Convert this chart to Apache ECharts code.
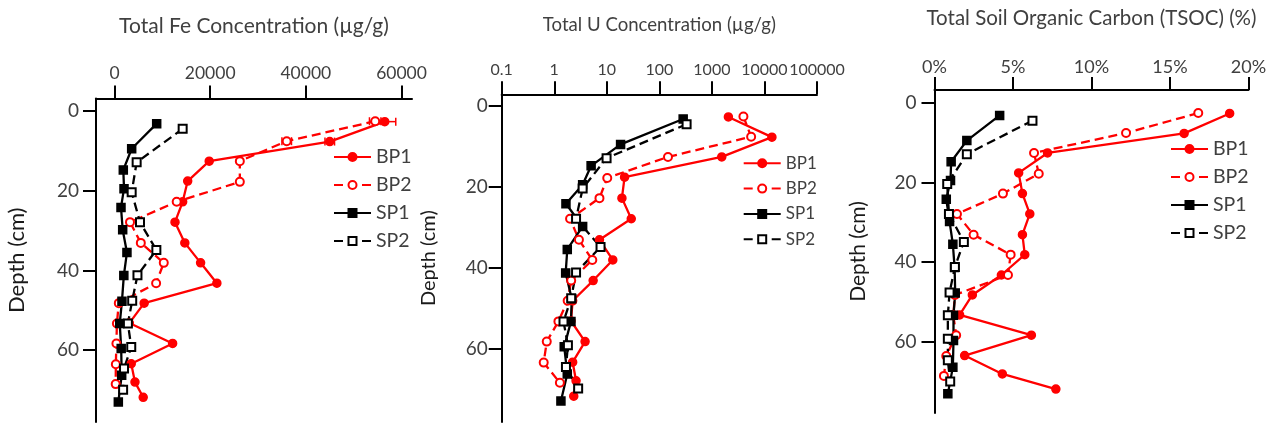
<!DOCTYPE html>
<html>
<head>
<meta charset="utf-8">
<script src="https://cdn.jsdelivr.net/npm/echarts@6/dist/echarts.min.js"></script>
<style>html,body{margin:0;padding:0;background:#fff}#c{width:1272px;height:424px}</style>
</head>
<body>
<div id="c"></div>
<script>
// ---- Depths (cm) per sampling profile ----
const depthBP1 = [2.7, 7.7, 12.6, 17.6, 22.8, 27.9, 33.1, 38.1, 43.2, 48.2, 53.2, 58.3, 63.4, 68.0, 71.8];
const depthBP2 = [2.6, 7.6, 12.6, 17.8, 22.8, 27.9, 33.1, 38.1, 43.2, 48.2, 53.3, 58.3, 63.5, 68.5];
const depthSP1 = [3.2, 9.5, 14.8, 19.5, 24.2, 29.8, 35.5, 41.3, 47.7, 53.3, 59.6, 66.3, 73.0];
const depthSP2 = [4.5, 12.9, 20.4, 27.9, 34.9, 41.2, 47.6, 53.3, 59.2, 64.6, 69.9];

// ---- Total Fe (ug/g) ----
const feBP1 = [56500, 45000, 19800, 15300, 14250, 12650, 14700, 18000, 21400, 6200, 3100, 12150, 3500, 4280, 6000];
const feBP2 = [54500, 36000, 26200, 26200, 13000, 3240, 5500, 10300, 8700, 900, 500, 400, 280, 250];
const feSP1 = [8820, 3590, 1840, 1990, 1360, 1710, 2600, 1950, 1560, 1100, 1400, 1500, 800];
const feSP2 = [14250, 4630, 3590, 5330, 8750, 4800, 3700, 2800, 3500, 1990, 1800];
const feErrBP1 = [2300, 1000, 0, 0, 0, 0, 0, 0, 0, 0, 0, 0, 0, 0, 0];
const feErrBP2 = [1200, 1000, 0, 0, 0, 0, 0, 0, 0, 0, 0, 0, 0, 0];

// ---- Total U (ug/g) ----
const uBP1 = [2060, 13870, 1540, 21.8, 19.4, 29.2, 7.25, 13, 5.5, 2.24, 2.08, 3.86, 2.24, 2.6, 2.35];
const uBP2 = [3980, 5580, 146, 10.2, 7.25, 2.0, 2.95, 5.3, 2.1, 1.8, 1.2, 0.72, 0.63, 1.28];
const uSP1 = [284, 18.3, 5.03, 3.47, 1.67, 3.47, 1.77, 1.65, 2.15, 2.08, 1.55, 1.77, 1.34];
const uSP2 = [330, 9.9, 3.47, 2.6, 7.6, 2.6, 2.1, 1.5, 1.82, 1.67, 2.85];

// ---- TSOC (%) ----
const tsocBP1 = [18.8, 15.9, 7.2, 5.36, 5.6, 6.07, 5.6, 5.75, 4.26, 2.41, 1.6, 6.17, 1.92, 4.32, 7.73];
const tsocBP2 = [16.8, 12.2, 6.34, 6.64, 4.36, 1.43, 2.49, 4.85, 4.68, 1.3, 1.2, 1.38, 0.75, 0.6];
const tsocSP1 = [4.15, 2.06, 1.06, 1.02, 0.75, 0.96, 1.17, 1.28, 1.32, 1.21, 1.21, 1.17, 0.85];
const tsocSP2 = [6.24, 2.06, 0.81, 0.92, 1.87, 1.3, 0.96, 0.85, 0.85, 0.85, 1.0];

// ---- Tick labels / names ----
const seriesNames = ['BP1', 'BP2', 'SP1', 'SP2'];
const depthTicks = [0, 20, 40, 60];
const feTicks = [0, 20000, 40000, 60000];
const uTicks = [0.1, 1, 10, 100, 1000, 10000, 100000];
const titles = ['Total Fe Concentration (\u00b5g/g)', 'Total U Concentration (\u00b5g/g)', 'Total Soil Organic Carbon (TSOC) (%)'];
const depthLabel = 'Depth (cm)';

const FONT = 'Lato';
const RED = '#ff0000';
const BLK = '#000000';
const LBL = '#404040';

const zip = (xs, ys) => xs.map((v, i) => [v, ys[i]]);

const styles = {
  BP1: {color: RED, symbol: 'circle', type: 'solid'},
  BP2: {color: RED, symbol: 'emptyCircle', type: [9, 5]},
  SP1: {color: BLK, symbol: 'rect', type: 'solid'},
  SP2: {color: BLK, symbol: 'emptyRect', type: [9, 5]}
};

function lineSeries(name, idx, xs, ys) {
  const s = styles[name];
  return {
    type: 'line', name: name, xAxisIndex: idx, yAxisIndex: idx,
    data: zip(xs, ys), symbol: s.symbol, symbolSize: 8,
    showAllSymbol: true, animation: false,
    lineStyle: {color: s.color, width: 2.3, type: s.type},
    itemStyle: {color: s.color, borderColor: s.color, borderWidth: 1.5}
  };
}

function errSeries(name, idx, xs, ys, es) {
  const data = xs.map((v, i) => [v, ys[i], es[i]]).filter(d => d[2] > 0);
  return {
    type: 'custom', name: name + ' err', xAxisIndex: idx, yAxisIndex: idx,
    data: data, animation: false, silent: true,
    renderItem: function (params, api) {
      const v = api.value(0), d = api.value(1), e = api.value(2);
      const a = api.coord([v - e, d]), b = api.coord([v + e, d]);
      const h = 4;
      const st = {stroke: RED, lineWidth: 1.5};
      return {type: 'group', children: [
        {type: 'line', shape: {x1: a[0], y1: a[1], x2: b[0], y2: b[1]}, style: st},
        {type: 'line', shape: {x1: a[0], y1: a[1] - h, x2: a[0], y2: a[1] + h}, style: st},
        {type: 'line', shape: {x1: b[0], y1: b[1] - h, x2: b[0], y2: b[1] + h}, style: st}
      ]};
    }
  };
}

const axisLineStyle = {show: true, onZero: false, lineStyle: {color: BLK, width: 2}};
const tickStyle = {show: true, length: 13, lineStyle: {color: BLK, width: 2}};

function yAxisFor(idx, min, max, gap, nameSize, lblMargin) {
  return {
    type: 'value', gridIndex: idx, inverse: true, min: min, max: max,
    name: depthLabel, nameLocation: 'middle', nameGap: gap, nameRotate: 90,
    nameTextStyle: {fontFamily: FONT, fontSize: nameSize, color: '#1a1a1a'},
    axisLine: axisLineStyle,
    axisTick: Object.assign({customValues: depthTicks}, tickStyle),
    axisLabel: {customValues: depthTicks, fontFamily: FONT, fontSize: 19, color: LBL, margin: lblMargin},
    splitLine: {show: false}
  };
}

const option = {
  backgroundColor: '#fff',
  animation: false,
  textStyle: {fontFamily: FONT},
  grid: [
    {left: 96, top: 98.5, width: 316, height: 323.5},
    {left: 501.7, top: 94.3, width: 315.3, height: 327.7},
    {left: 934.5, top: 90, width: 314, height: 323}
  ],
  xAxis: [
    {
      type: 'value', gridIndex: 0, position: 'top', min: -3868, max: 62195,
      name: titles[0], nameLocation: 'middle', nameGap: 62,
      nameTextStyle: {fontFamily: FONT, fontSize: 21, color: LBL},
      axisLine: axisLineStyle,
      axisTick: Object.assign({customValues: feTicks}, tickStyle),
      axisLabel: {customValues: feTicks, fontFamily: FONT, fontSize: 17.5, color: LBL, margin: 16,
        formatter: v => String(Math.round(v))},
      splitLine: {show: false}
    },
    {
      type: 'log', logBase: 10, gridIndex: 1, position: 'top', min: 0.1, max: 100000,
      name: titles[1], nameLocation: 'middle', nameGap: 60,
      nameTextStyle: {fontFamily: FONT, fontSize: 18.6, color: LBL},
      axisLine: axisLineStyle,
      axisTick: Object.assign({customValues: uTicks}, tickStyle),
      axisLabel: {customValues: uTicks, fontFamily: FONT, fontSize: 16, color: LBL, margin: 16,
        formatter: v => (v < 1 ? String(+v.toPrecision(3)) : String(Math.round(v)))},
      splitLine: {show: false}
    },
    {
      type: 'value', gridIndex: 2, position: 'top', min: 0, max: 20, interval: 5,
      name: titles[2], nameLocation: 'middle', nameGap: 61,
      nameTextStyle: {fontFamily: FONT, fontSize: 20.5, color: LBL},
      axisLine: axisLineStyle,
      axisTick: tickStyle,
      axisLabel: {fontFamily: FONT, fontSize: 18, color: LBL, margin: 14, formatter: '{value}%'},
      splitLine: {show: false}
    }
  ],
  yAxis: [
    yAxisFor(0, -3.1, 78.0, 68, 22, 17),
    yAxisFor(1, -2.9, 78.2, 63, 20, 14),
    yAxisFor(2, -3.18, 77.8, 66, 21, 18)
  ],
  legend: [
    {orient: 'vertical', left: 333, top: 147, padding: 0, itemWidth: 37, itemHeight: 10, itemGap: 8,
      data: seriesNames, textStyle: {fontFamily: FONT, fontSize: 19.5, color: LBL, lineHeight: 20}},
    {orient: 'vertical', left: 742.7, top: 154.3, padding: 0, itemWidth: 37, itemHeight: 10, itemGap: 7.3,
      data: seriesNames, textStyle: {fontFamily: FONT, fontSize: 17, color: LBL, lineHeight: 18}},
    {orient: 'vertical', left: 1170, top: 139, padding: 0, itemWidth: 37, itemHeight: 10, itemGap: 8,
      data: seriesNames, textStyle: {fontFamily: FONT, fontSize: 19.5, color: LBL, lineHeight: 20}}
  ],
  series: [
    errSeries('BP1', 0, feBP1, depthBP1, feErrBP1),
    errSeries('BP2', 0, feBP2, depthBP2, feErrBP2),
    lineSeries('BP1', 0, feBP1, depthBP1),
    lineSeries('BP2', 0, feBP2, depthBP2),
    lineSeries('SP1', 0, feSP1, depthSP1),
    lineSeries('SP2', 0, feSP2, depthSP2),
    lineSeries('BP1', 1, uBP1, depthBP1),
    lineSeries('BP2', 1, uBP2, depthBP2),
    lineSeries('SP1', 1, uSP1, depthSP1),
    lineSeries('SP2', 1, uSP2, depthSP2),
    lineSeries('BP1', 2, tsocBP1, depthBP1),
    lineSeries('BP2', 2, tsocBP2, depthBP2),
    lineSeries('SP1', 2, tsocSP1, depthSP1),
    lineSeries('SP2', 2, tsocSP2, depthSP2)
  ]
};

const chart = echarts.init(document.getElementById('c'), null, {renderer: 'canvas'});
chart.setOption(option);
</script>
</body>
</html>
